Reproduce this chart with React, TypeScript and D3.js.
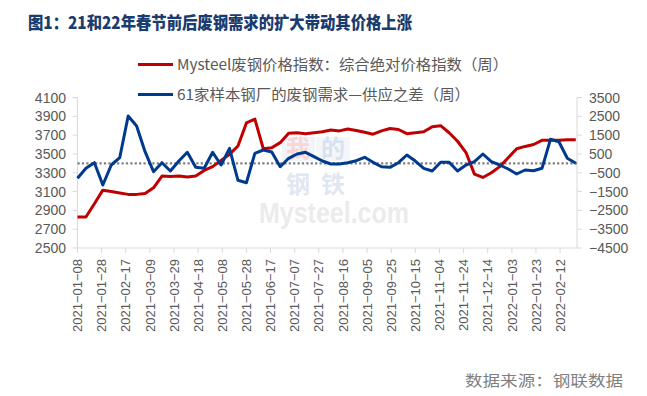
import * as d3 from "d3";
import { useEffect, useRef } from "react";

// weekly series, first week 2021-01-08
const startDate = "2021-01-08";

// Mysteel scrap price index (left axis)
const priceIndex = [
  2830, 2830, 2970, 3115, 3100, 3085, 3070, 3070, 3080, 3140,
  3265, 3260, 3265, 3255, 3265, 3325, 3365, 3430, 3495, 3585,
  3830, 3870, 3555, 3565, 3620, 3720, 3725, 3715, 3725, 3735,
  3755, 3745, 3765, 3750, 3730, 3710, 3745, 3770, 3760, 3715,
  3725, 3735, 3790, 3800, 3725, 3635, 3515, 3285, 3250, 3300,
  3365, 3460, 3555, 3580, 3600, 3645, 3645, 3645, 3650, 3650,
];

// demand minus supply at 61 mills (right axis)
const demandGap = [
  -795, -264, 34, -1150, -88, 300, 2517, 1985, 619, -444,
  34, -407, 124, 587, -211, -264, 587, -88, 799, -900,
  -1030, 534, 709, 603, -179, 268, 496, 587, 353, 124,
  -35, -35, 34, 140, 321, 55, -179, -211, 34, 443,
  124, -264, -407, 55, 55, -407, -88, 87, 496, 87,
  -88, -301, -567, -354, -391, -264, 1278, 1150, 268, 2,
];

const leftTicks = [2500, 2700, 2900, 3100, 3300, 3500, 3700, 3900, 4100];
const rightTicks = [-4500, -3500, -2500, -1500, -500, 500, 1500, 2500, 3500];
const dateLabels = [
  "2021-01-08", "2021-01-28", "2021-02-17", "2021-03-09", "2021-03-29",
  "2021-04-18", "2021-05-08", "2021-05-28", "2021-06-17", "2021-07-07",
  "2021-07-27", "2021-08-16", "2021-09-05", "2021-09-25", "2021-10-15",
  "2021-11-04", "2021-11-24", "2021-12-14", "2022-01-03", "2022-01-23",
  "2022-02-12",
];

const title = "图1：21和22年春节前后废钢需求的扩大带动其价格上涨";
const legendNames = [
  "Mysteel废钢价格指数：综合绝对价格指数（周）",
  "61家样本钢厂的废钢需求—供应之差（周）",
];
const source = "数据来源：钢联数据";

const RED = "#C00000";
const BLUE = "#003A8C";
const GREY = "#595959";
const AXIS = "#d9d9d9";

export default function App(): JSX.Element {
  const svgRef = useRef<SVGSVGElement>(null);

  useEffect(() => {
    if (!svgRef.current) return;
    const width = 647;
    const height = 396;
    const plot = { left: 77.5, right: 577, top: 97.5, bottom: 248 };

    const svg = d3.select(svgRef.current);
    svg.selectAll("*").remove();
    svg.attr("width", width).attr("height", height);

    const parse = d3.timeParse("%Y-%m-%d");
    const first = parse(startDate)!;
    const dates = priceIndex.map((_, i) => d3.timeDay.offset(first, 7 * i));

    const x = d3
      .scaleTime()
      .domain([first, d3.timeDay.offset(dates[dates.length - 1], 1)])
      .range([plot.left, plot.right]);
    const yL = d3.scaleLinear().domain([2500, 4100]).range([plot.bottom, plot.top]);
    const yR = d3.scaleLinear().domain([-4500, 3500]).range([plot.bottom, plot.top]);

    svg.append("rect").attr("width", width).attr("height", height).attr("fill", "#fff");

    // title
    svg
      .append("text")
      .attr("x", 28)
      .attr("y", 29)
      .attr("textLength", 384)
      .attr("lengthAdjust", "spacingAndGlyphs")
      .style("font-family", "'Noto Sans CJK SC', sans-serif")
      .style("font-weight", 900)
      .style("font-size", "17px")
      .attr("fill", "#1B3C6E")
      .text(title);

    // watermark
    const wm = svg.append("g").attr("opacity", 0.4);
    wm.append("rect").attr("x", 282).attr("y", 137).attr("width", 33).attr("height", 24).attr("fill", "#dfe5ef");
    wm.append("rect").attr("x", 316).attr("y", 137).attr("width", 34).attr("height", 24).attr("fill", "#e6ecf5");
    const wmChars = [
      { t: "我", x: 298, y: 157, c: "#ef9a9a" },
      { t: "的", x: 333, y: 157, c: "#9fb6d8" },
      { t: "钢", x: 298, y: 193, c: "#b3c4de" },
      { t: "铁", x: 333, y: 193, c: "#b3c4de" },
    ];
    for (const w of wmChars) {
      wm.append("text")
        .attr("x", w.x)
        .attr("y", w.y)
        .attr("text-anchor", "middle")
        .style("font-family", "'Noto Sans CJK SC', sans-serif")
        .style("font-weight", 700)
        .style("font-size", "24px")
        .attr("fill", w.c)
        .text(w.t);
    }
    wm.append("text")
      .attr("x", 259)
      .attr("y", 223)
      .attr("textLength", 150)
      .attr("lengthAdjust", "spacingAndGlyphs")
      .style("font-family", "'Liberation Sans', Arial, sans-serif")
      .style("font-weight", 700)
      .style("font-size", "29px")
      .attr("fill", "#cfcfcf")
      .text("Mysteel.com");

    // axes
    const axisG = svg.append("g").attr("stroke", AXIS).attr("stroke-width", 1);
    axisG.append("line").attr("x1", plot.left).attr("x2", plot.left).attr("y1", plot.top).attr("y2", plot.bottom);
    axisG.append("line").attr("x1", plot.right).attr("x2", plot.right).attr("y1", plot.top).attr("y2", plot.bottom);
    axisG.append("line").attr("x1", plot.left).attr("x2", plot.right).attr("y1", plot.bottom).attr("y2", plot.bottom);

    axisG
      .selectAll("line.lt")
      .data(leftTicks)
      .join("line")
      .attr("class", "lt")
      .attr("x1", plot.left - 5)
      .attr("x2", plot.left)
      .attr("y1", (d) => yL(d))
      .attr("y2", (d) => yL(d));
    axisG
      .selectAll("line.rt")
      .data(rightTicks)
      .join("line")
      .attr("class", "rt")
      .attr("x1", plot.right)
      .attr("x2", plot.right + 5)
      .attr("y1", (d) => yR(d))
      .attr("y2", (d) => yR(d));
    axisG
      .selectAll("line.xt")
      .data(dateLabels)
      .join("line")
      .attr("class", "xt")
      .attr("x1", (d) => x(parse(d)!))
      .attr("x2", (d) => x(parse(d)!))
      .attr("y1", plot.bottom)
      .attr("y2", plot.bottom + 5);

    const labelFont = "'Liberation Sans', Arial, sans-serif";
    svg
      .append("g")
      .selectAll("text")
      .data(leftTicks)
      .join("text")
      .attr("x", 66)
      .attr("y", (d) => yL(d))
      .attr("dy", "0.36em")
      .attr("text-anchor", "end")
      .style("font-family", labelFont)
      .style("font-size", "14px")
      .attr("fill", GREY)
      .text((d) => d);

    svg
      .append("g")
      .selectAll("text")
      .data(rightTicks)
      .join("text")
      .attr("x", 589)
      .attr("y", (d) => yR(d))
      .attr("dy", "0.36em")
      .style("font-family", labelFont)
      .style("font-size", "14px")
      .attr("fill", GREY)
      .text((d) => (d < 0 ? `−${Math.abs(d)}` : `${d}`));

    svg
      .append("g")
      .selectAll("text")
      .data(dateLabels)
      .join("text")
      .attr("transform", (d) => `translate(${x(parse(d)!)},259) rotate(-90)`)
      .attr("dy", "0.36em")
      .attr("text-anchor", "end")
      .style("font-family", labelFont)
      .style("font-size", "13px")
      .attr("fill", GREY)
      .text((d) => d.replace(/-/g, "−"));

    // zero reference of the right axis
    svg
      .append("line")
      .attr("x1", plot.left)
      .attr("x2", plot.right)
      .attr("y1", yR(0))
      .attr("y2", yR(0))
      .attr("stroke", "#7f7f7f")
      .attr("stroke-width", 2.2)
      .attr("stroke-dasharray", "2.2,2.2");

    const redLine = d3
      .line<number>()
      .x((_, i) => x(dates[i]))
      .y((d) => yL(d));
    const blueLine = d3
      .line<number>()
      .x((_, i) => x(dates[i]))
      .y((d) => yR(d));

    svg
      .append("path")
      .datum(priceIndex)
      .attr("d", redLine)
      .attr("fill", "none")
      .attr("stroke", RED)
      .attr("stroke-width", 3)
      .attr("stroke-linejoin", "round");

    svg
      .append("path")
      .datum(demandGap)
      .attr("d", blueLine)
      .attr("fill", "none")
      .attr("stroke", BLUE)
      .attr("stroke-width", 3)
      .attr("stroke-linejoin", "round");

    // legend
    const legend = [
      { name: legendNames[0], color: RED, y: 64.5, len: 331 },
      { name: legendNames[1], color: BLUE, y: 94.5, len: 293 },
    ];
    for (const l of legend) {
      svg
        .append("line")
        .attr("x1", 138)
        .attr("x2", 173)
        .attr("y1", l.y)
        .attr("y2", l.y)
        .attr("stroke", l.color)
        .attr("stroke-width", 3);
      svg
        .append("text")
        .attr("x", 177)
        .attr("y", l.y)
        .attr("dy", "0.36em")
        .attr("textLength", l.len)
        .attr("lengthAdjust", "spacingAndGlyphs")
        .style("font-family", "'Noto Sans CJK SC', sans-serif")
        .style("font-size", "15px")
        .attr("fill", GREY)
        .text(l.name);
    }

    svg
      .append("text")
      .attr("x", 465)
      .attr("y", 381)
      .attr("dy", "0.36em")
      .attr("textLength", 158)
      .attr("lengthAdjust", "spacingAndGlyphs")
      .style("font-family", "'Noto Sans CJK SC', sans-serif")
      .style("font-size", "15px")
      .attr("fill", "#7f7f7f")
      .text(source);
  }, []);

  return (
    <div style={{ position: "absolute", left: 0, top: 0 }}>
      <svg ref={svgRef} style={{ display: "block" }} />
    </div>
  );
}
